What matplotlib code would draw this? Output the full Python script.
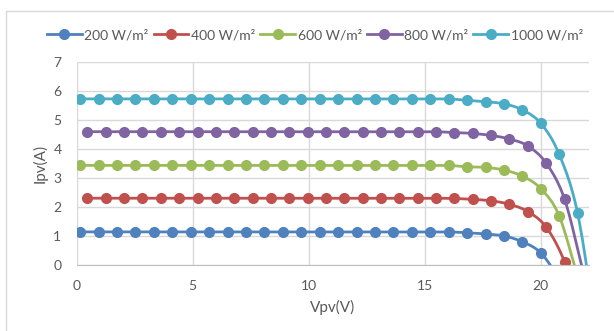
import numpy as np
import matplotlib.pyplot as plt
from matplotlib.lines import Line2D
from matplotlib.patches import Rectangle

plt.rcParams['font.family'] = ['Lato', 'DejaVu Sans']

# PV module I-V curves at five irradiance levels
labels = ["200 W/m²", "400 W/m²", "600 W/m²", "800 W/m²", "1000 W/m²"]
colors = ["#4F81BD", "#C0504D", "#9BBB59", "#8064A2", "#4BACC6"]

# voltage sample points (two sweeps with slightly different start)
v_a = [0.15, 0.94, 1.74, 2.53, 3.33, 4.12, 4.91, 5.71, 6.50, 7.30,
       8.09, 8.88, 9.68, 10.47, 11.27, 12.06, 12.85, 13.65, 14.44, 15.24,
       16.03, 16.82, 17.62, 18.41, 19.21, 20.00, 20.79, 21.59, 22.38]
v_b = [0.46, 1.25, 2.04, 2.83, 3.62, 4.41, 5.21, 6.00, 6.79, 7.58,
       8.37, 9.16, 9.95, 10.74, 11.53, 12.33, 13.12, 13.91, 14.70, 15.49,
       16.28, 17.07, 17.86, 18.65, 19.44, 20.24, 21.03, 21.82]

# currents (A)
i_200 = [1.14] * 21 + [1.11, 1.07, 1.00, 0.80, 0.42, -0.45]
i_400 = [2.30] * 20 + [2.29, 2.26, 2.21, 2.09, 1.84, 1.30, 0.11, -1.80]
i_600 = [3.43] * 21 + [3.38, 3.36, 3.27, 3.06, 2.63, 1.70, -0.40]
i_800 = [4.59] * 20 + [4.56, 4.53, 4.46, 4.34, 4.10, 3.50, 2.26, -0.20]
i_1000 = [5.72] * 21 + [5.67, 5.62, 5.55, 5.34, 4.88, 3.82, 1.78, -2.20]

series = [(v_a, i_200), (v_b, i_400), (v_a, i_600), (v_b, i_800), (v_a, i_1000)]


def smooth(x, y, n=12):
    # Catmull-Rom spline through the samples, like a smoothed line chart
    p = np.column_stack([x, y])
    p = np.vstack([2 * p[0] - p[1], p, 2 * p[-1] - p[-2]])
    out = []
    t = np.linspace(0, 1, n, endpoint=False)[:, None]
    for k in range(1, len(p) - 2):
        p0, p1, p2, p3 = p[k - 1], p[k], p[k + 1], p[k + 2]
        seg = 0.5 * ((2 * p1) + (-p0 + p2) * t
                     + (2 * p0 - 5 * p1 + 4 * p2 - p3) * t ** 2
                     + (-p0 + 3 * p1 - 3 * p2 + p3) * t ** 3)
        out.append(seg)
    out.append(p[-2][None, :])
    out = np.vstack(out)
    return out[:, 0], out[:, 1]


fig = plt.figure(figsize=(6.14, 3.31), dpi=100)
ax = fig.add_axes([76.7 / 614, 1 - 265 / 331, 512.3 / 614, 203.3 / 331])

for (v, i), c in zip(series, colors):
    v = v[:len(i)]
    xs, ys = smooth(v, i)
    ax.plot(xs, ys, color=c, lw=2, solid_capstyle='round')
    ax.plot(v, i, 'o', color=c, ms=7, mec=c)

ax.set_xlim(0, 22.08)
ax.set_ylim(0, 7)
ax.set_xticks([0, 5, 10, 15, 20])
ax.set_yticks(range(8))

ax.grid(True, color="#d9d9d9", lw=1)
ax.set_axisbelow(True)
for s in ["top", "right", "left"]:
    ax.spines[s].set_visible(False)
ax.spines["bottom"].set_color("#bfbfbf")
ax.tick_params(length=0, colors="#595959", labelsize=10)
ax.tick_params(axis='x', pad=11)
ax.tick_params(axis='y', pad=11)

ax.set_xlabel("Vpv(V)", color="#595959", fontsize=11)
ax.set_ylabel("Ipv(A)", color="#595959", fontsize=11)
ax.xaxis.set_label_coords(0.5, (265 - 307) / 203.3)
ax.yaxis.set_label_coords((40 - 76.7) / 512.3, 0.5)
ax.xaxis.label.set_va('center')
ax.yaxis.label.set_va('center')

handles = [Line2D([], [], color=c, lw=2, marker='o', ms=7) for c in colors]
fig.legend(handles, labels, ncol=5, loc='center',
           bbox_to_anchor=(315 / 614, 1 - 35 / 331), frameon=False,
           fontsize=10, labelcolor="#595959", handlelength=2.5,
           handletextpad=0.2, columnspacing=0.35)

# chart area outline
fig.patches.append(Rectangle((6 / 614, -0.05), 1.0, 1 - 11 / 331 + 0.05,
                             transform=fig.transFigure, fill=False,
                             ec="#d9d9d9", lw=1))

fig.savefig("out.png", dpi=100)
